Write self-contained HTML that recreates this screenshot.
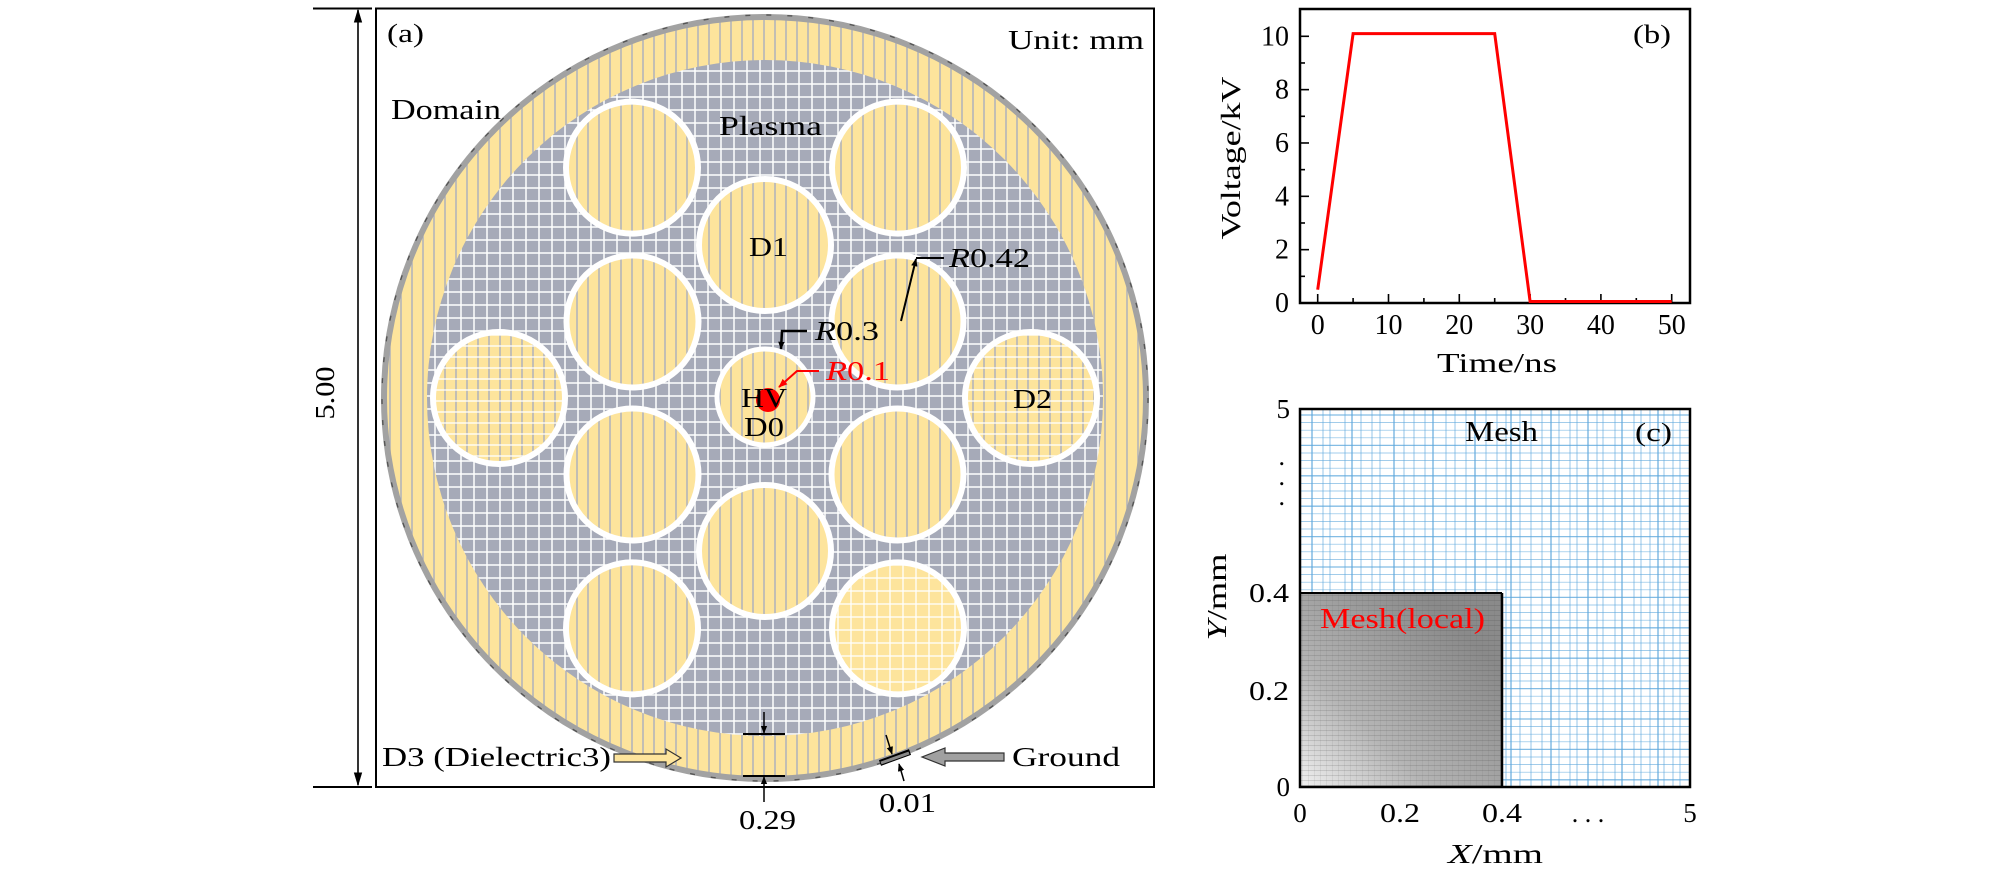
<!DOCTYPE html>
<html><head><meta charset="utf-8"><style>
html,body{margin:0;padding:0;background:#fff;}
svg{display:block;}
text{font-family:"Liberation Serif",serif;fill:#000;}
</style></head><body>
<svg id="fig" width="2008" height="880" viewBox="0 0 2008 880" xmlns="http://www.w3.org/2000/svg">
<defs>
  <pattern id="yv" patternUnits="userSpaceOnUse" width="11" height="11">
    <rect width="11" height="11" fill="#fde49c"/>
    <line x1="5" y1="0" x2="5" y2="11" stroke="#a3a9c2" stroke-width="1.3"/>
  </pattern>
  <pattern id="yg" patternUnits="userSpaceOnUse" width="11" height="11">
    <rect width="11" height="11" fill="#fde49c"/>
    <line x1="5" y1="0" x2="5" y2="11" stroke="#a3a9c2" stroke-width="1.3"/>
    <line x1="0" y1="5" x2="11" y2="5" stroke="#ffffff" stroke-width="1.3"/>
  </pattern>
  <pattern id="yw" patternUnits="userSpaceOnUse" width="13" height="13">
    <rect width="13" height="13" fill="#fde49c"/>
    <line x1="6" y1="0" x2="6" y2="13" stroke="#ffffff" stroke-width="1.3"/>
    <line x1="0" y1="6" x2="13" y2="6" stroke="#ffffff" stroke-width="1.3"/>
  </pattern>
  <pattern id="pl" patternUnits="userSpaceOnUse" width="13" height="13">
    <rect width="13" height="13" fill="#a6aab8"/>
    <line x1="6" y1="0" x2="6" y2="13" stroke="#ffffff" stroke-width="1.5"/>
    <line x1="0" y1="6" x2="13" y2="6" stroke="#ffffff" stroke-width="1.5"/>
  </pattern>
  <linearGradient id="lg" x1="0" y1="1" x2="0.8" y2="0.2">
    <stop offset="0" stop-color="#f0f0f0"/>
    <stop offset="0.4" stop-color="#b4b4b4"/>
    <stop offset="1" stop-color="#8a8a8a"/>
  </linearGradient>
  <pattern id="lm" patternUnits="userSpaceOnUse" width="6" height="5">
    <line x1="0" y1="0" x2="6" y2="0" stroke="#333" stroke-width="0.6" opacity="0.5"/>
    <line x1="0" y1="0" x2="0" y2="5" stroke="#555" stroke-width="0.5" opacity="0.4"/>
  </pattern>
  <marker id="ah" viewBox="0 0 10 10" refX="9" refY="5" markerWidth="8" markerHeight="8" orient="auto-start-reverse" markerUnits="userSpaceOnUse">
    <path d="M0,1 L10,5 L0,9 z" fill="#000"/>
  </marker>
  <marker id="ahr" viewBox="0 0 10 10" refX="9" refY="5" markerWidth="9" markerHeight="9" orient="auto" markerUnits="userSpaceOnUse">
    <path d="M0,1 L10,5 L0,9 z" fill="#f00"/>
  </marker>
  <marker id="ahb" viewBox="0 0 10 10" refX="9" refY="5" markerWidth="14" markerHeight="14" orient="auto-start-reverse" markerUnits="userSpaceOnUse">
    <path d="M0,2 L10,5 L0,8 z" fill="#000"/>
  </marker>
</defs>

<!-- Panel (a) -->
<g>
  <rect x="376" y="8.5" width="778" height="778.5" fill="none" stroke="#000" stroke-width="2"/>
  <g>
    <line x1="313" y1="8.5" x2="372" y2="8.5" stroke="#000" stroke-width="2"/>
    <line x1="313" y1="787" x2="372" y2="787" stroke="#000" stroke-width="2"/>
    <line x1="358" y1="10" x2="358" y2="785" stroke="#000" stroke-width="1.6" marker-start="url(#ahb)" marker-end="url(#ahb)"/>
    <text transform="translate(334,393) rotate(-90)" text-anchor="middle" font-size="27" textLength="53" lengthAdjust="spacingAndGlyphs">5.00</text>
  </g>
  <circle cx="765" cy="398" r="381" fill="url(#yv)" stroke="#a2a2a2" stroke-width="6"/>
  <circle cx="765" cy="398" r="383" fill="none" stroke="#555" stroke-width="1.4" stroke-dasharray="5 16"/>
  <circle cx="765" cy="398" r="338" fill="url(#pl)"/>
  <g id="holes"></g>
  <circle cx="765" cy="397" r="48" fill="url(#yv)" stroke="#fff" stroke-width="5"/>
  <circle cx="768" cy="400" r="12" fill="#f00"/>

  <text x="387" y="42" font-size="26" textLength="37" lengthAdjust="spacingAndGlyphs">(a)</text>
  <text x="1008" y="49" font-size="27" textLength="136" lengthAdjust="spacingAndGlyphs">Unit: mm</text>
  <text x="391" y="119" font-size="28" textLength="110" lengthAdjust="spacingAndGlyphs">Domain</text>
  <text x="719" y="135" font-size="27" textLength="103" lengthAdjust="spacingAndGlyphs">Plasma</text>
  <text x="749" y="256" font-size="27" textLength="39" lengthAdjust="spacingAndGlyphs">D1</text>
  <text x="1013" y="408" font-size="27" textLength="39" lengthAdjust="spacingAndGlyphs">D2</text>
  <text x="741" y="407" font-size="27" textLength="46" lengthAdjust="spacingAndGlyphs">HV</text>
  <text x="744" y="436" font-size="27" textLength="40" lengthAdjust="spacingAndGlyphs">D0</text>

  <g>
    <line x1="944" y1="258" x2="916" y2="258" stroke="#000" stroke-width="2"/>
    <line x1="901" y1="321" x2="916" y2="259" stroke="#000" stroke-width="2" marker-end="url(#ah)"/>
    <text x="949" y="267" font-size="27" textLength="81" lengthAdjust="spacingAndGlyphs"><tspan font-style="italic">R</tspan>0.42</text>
  </g>
  <g>
    <polyline points="807,331 782,331 781,349" fill="none" stroke="#000" stroke-width="2.5" marker-end="url(#ah)"/>
    <text x="815" y="340" font-size="27" textLength="64" lengthAdjust="spacingAndGlyphs"><tspan font-style="italic">R</tspan>0.3</text>
  </g>
  <g>
    <polyline points="819,371 797,371 779,387" fill="none" stroke="#f00" stroke-width="2" marker-end="url(#ahr)"/>
    <text x="826" y="380" font-size="27" style="fill:#f00" textLength="64" lengthAdjust="spacingAndGlyphs"><tspan font-style="italic" style="fill:#f00">R</tspan>0.1</text>
  </g>
  <g>
    <line x1="743" y1="734" x2="785" y2="734" stroke="#000" stroke-width="2"/>
    <line x1="743" y1="776" x2="785" y2="776" stroke="#000" stroke-width="2"/>
    <line x1="764" y1="712" x2="764" y2="733" stroke="#000" stroke-width="1.5" marker-end="url(#ah)"/>
    <line x1="764" y1="802" x2="764" y2="777" stroke="#000" stroke-width="1.5" marker-end="url(#ah)"/>
    <text x="739" y="829" font-size="27" textLength="57" lengthAdjust="spacingAndGlyphs">0.29</text>
  </g>
  <g>
    <line x1="880" y1="763" x2="910" y2="752" stroke="#000" stroke-width="6"/>
    <line x1="881" y1="763" x2="909" y2="753" stroke="#888" stroke-width="3"/>
    <line x1="886" y1="735" x2="892" y2="754" stroke="#000" stroke-width="1.5" marker-end="url(#ah)"/>
    <line x1="904" y1="781" x2="899" y2="764" stroke="#000" stroke-width="1.5" marker-end="url(#ah)"/>
    <text x="879" y="812" font-size="27" textLength="57" lengthAdjust="spacingAndGlyphs">0.01</text>
    <path d="M1004,753 L945,753 L945,748 L922,757 L945,766 L945,761 L1004,761 z" fill="#a0a0a0" stroke="#333" stroke-width="1.2"/>
    <text x="1012" y="766" font-size="27" textLength="108" lengthAdjust="spacingAndGlyphs">Ground</text>
  </g>
  <g>
    <text x="382" y="766" font-size="27" textLength="229" lengthAdjust="spacingAndGlyphs">D3 (Dielectric3)</text>
    <path d="M614,754 L666,754 L666,749 L681,758 L666,767 L666,762 L614,762 z" fill="#fde49c" stroke="#333" stroke-width="1.2"/>
  </g>
</g>

<!-- Panel (b) -->
<g id="pb">
  <text transform="translate(1240,158) rotate(-90)" text-anchor="middle" font-size="27" textLength="163" lengthAdjust="spacingAndGlyphs">Voltage/kV</text>
  <text x="1437" y="372" font-size="27" textLength="120" lengthAdjust="spacingAndGlyphs">Time/ns</text>
  <text x="1633" y="43" font-size="26" textLength="38" lengthAdjust="spacingAndGlyphs">(b)</text>
</g>

<!-- Panel (c) -->
<g id="pc">
  <g id="meshlines"></g>
  <rect x="1300" y="593" width="202" height="194" fill="url(#lg)"/>
  <rect x="1300" y="593" width="202" height="194" fill="url(#lm)"/>
  <line x1="1300" y1="593" x2="1502" y2="593" stroke="#000" stroke-width="2"/>
  <line x1="1502" y1="593" x2="1502" y2="787" stroke="#000" stroke-width="2.5"/>
  <rect x="1300" y="409" width="390" height="378" fill="none" stroke="#000" stroke-width="2.5"/>
  <text x="1465" y="441" font-size="28" textLength="73" lengthAdjust="spacingAndGlyphs">Mesh</text>
  <text x="1635" y="441" font-size="26" textLength="37" lengthAdjust="spacingAndGlyphs">(c)</text>
  <text x="1320" y="628" font-size="28" style="fill:#f00" textLength="165" lengthAdjust="spacingAndGlyphs">Mesh(local)</text>
  <text x="1290" y="418" text-anchor="end" font-size="27">5</text>
  <text x="1285" y="465" text-anchor="end" font-size="26">.</text>
  <text x="1285" y="485" text-anchor="end" font-size="26">.</text>
  <text x="1285" y="505" text-anchor="end" font-size="26">.</text>
  <text x="1249" y="602" font-size="27" textLength="40" lengthAdjust="spacingAndGlyphs">0.4</text>
  <text x="1249" y="700" font-size="27" textLength="40" lengthAdjust="spacingAndGlyphs">0.2</text>
  <text x="1290" y="796" text-anchor="end" font-size="27">0</text>
  <text x="1300" y="822" text-anchor="middle" font-size="27">0</text>
  <text x="1380" y="822" font-size="27" textLength="40" lengthAdjust="spacingAndGlyphs">0.2</text>
  <text x="1482" y="822" font-size="27" textLength="40" lengthAdjust="spacingAndGlyphs">0.4</text>
  <text x="1588" y="822" text-anchor="middle" font-size="26">. . .</text>
  <text x="1690" y="822" text-anchor="middle" font-size="27">5</text>
  <text x="1448" y="863" font-size="27" textLength="95" lengthAdjust="spacingAndGlyphs"><tspan font-style="italic">X</tspan>/mm</text>
  <text transform="translate(1226,597) rotate(-90)" text-anchor="middle" font-size="27" textLength="87" lengthAdjust="spacingAndGlyphs"><tspan font-style="italic">Y</tspan>/mm</text>
</g>
</svg>
<script>
// Panel (b) data
const times = [0, 5, 25, 30, 50];
const volts = [0.5, 10.1, 10.1, 0, 0];
const xTicks = [0, 10, 20, 30, 40, 50];
const yTicks = [0, 2, 4, 6, 8, 10];

const NS = "http://www.w3.org/2000/svg";
function mk(tag, attrs, parent){const e=document.createElementNS(NS,tag);for(const k in attrs)e.setAttribute(k,attrs[k]);parent.appendChild(e);return e;}

// dielectric rods (layout geometry)
const holes = document.getElementById('holes');
const C=[765,398];
const rodDefs=[];
[30,90,150,210,270,330].forEach(a=>rodDefs.push([153,a,'yv']));
[0,60,120,180,240,300].forEach(a=>rodDefs.push([266,a,a===0||a===180?'yg':(a===300?'yw':'yv')]));
rodDefs.forEach((d,i)=>{
  const a=d[1]*Math.PI/180;
  const c=mk('circle',{cx:C[0]+d[0]*Math.cos(a),cy:C[1]-d[0]*Math.sin(a),r:66,fill:'url(#'+d[2]+')',stroke:'#fff','stroke-width':6},holes);
  
  
});

// panel b axes
const pb=document.getElementById('pb');
const X0=1300,X1=1690,Y0=9,Y1=303;
const xs=t=>1317.7+(t-0)*(1671.7-1317.7)/50;
const ys=v=>303-v*(303-36.3)/10;
for(let t=0;t<=50;t+=5){
  const len=(t%10===0)?9:5;
  mk('line',{x1:xs(t),y1:Y1,x2:xs(t),y2:Y1-len,stroke:'#000','stroke-width':1.6},pb);
}
for(let v=0;v<=10;v+=1){
  const len=(v%2===0)?9:5;
  mk('line',{x1:X0,y1:ys(v),x2:X0+len,y2:ys(v),stroke:'#000','stroke-width':1.6},pb);
}
xTicks.forEach(t=>{const e=mk('text',{x:xs(t),y:334,'text-anchor':'middle','font-size':28},pb);e.textContent=t;
  
  });
yTicks.forEach(v=>{const e=mk('text',{x:1289,y:ys(v)+9,'text-anchor':'end','font-size':28},pb);e.textContent=v;
  
  });
const fr=mk('rect',{x:X0,y:Y0,width:X1-X0,height:Y1-Y0,fill:'none',stroke:'#000','stroke-width':2.5},pb);


const line=mk('polyline',{points:times.map((t,i)=>xs(t)+','+(ys(volts[i])-(volts[i]===0?1.5:0))).join(' '),fill:'none',stroke:'#f00','stroke-width':3,'stroke-linejoin':'miter'},pb);



// panel c blue mesh (decorative grid geometry)
const ml=document.getElementById('meshlines');
const vx=[1312,1323,1330,1345,1352,1361,1372,1380,1394,1404,1414,1425,1433,1446,1455,1466,1475,1486,1497,1506,1511,1520,1531,1542,1551,1559,1570,1577,1588,1597,1603,1615,1622,1634,1641,1650,1658,1664,1673,1680];
vx.forEach((x,i)=>mk('line',{x1:x,y1:409,x2:x,y2:787,stroke:'#5aa6dc','stroke-width':(i%4===0)?1.4:0.8,opacity:0.8},ml));
for(let y=415;y<787;y+=7.6){
  mk('line',{x1:1300,y1:y,x2:1690,y2:y,stroke:'#5aa6dc','stroke-width':((Math.round((y-415)/7.6))%4===0)?1.3:0.7,opacity:0.75},ml);
}
</script>
</body></html>
